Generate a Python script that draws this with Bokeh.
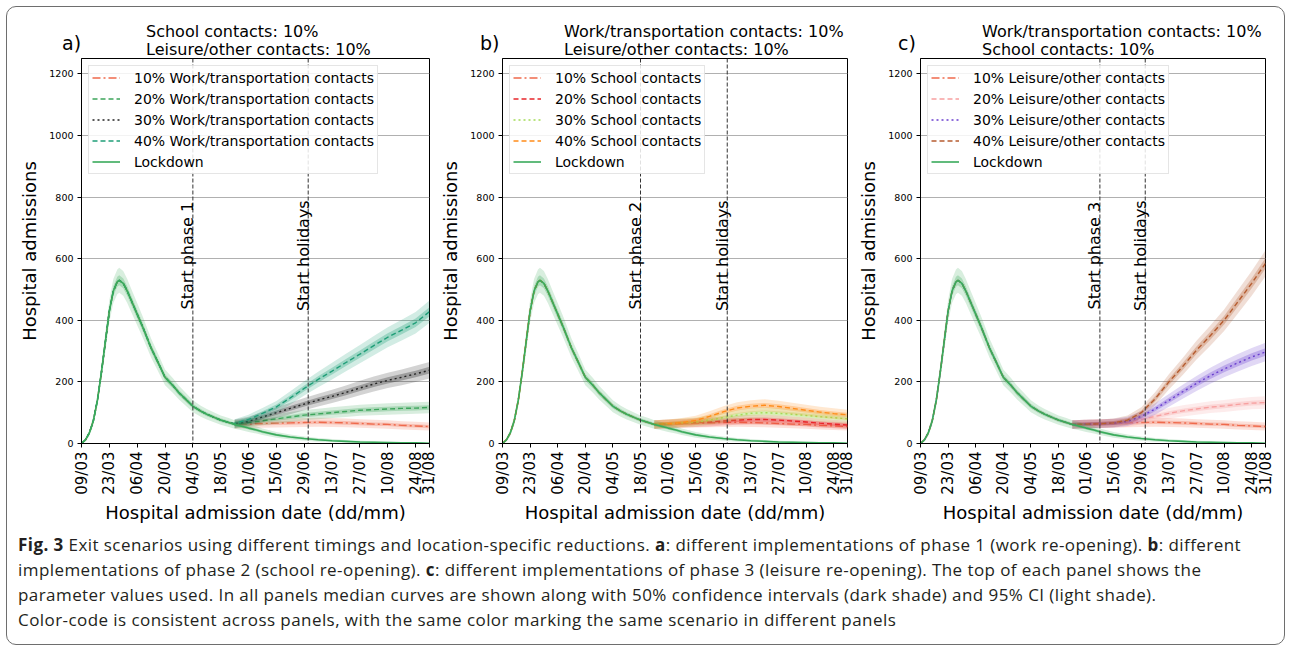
import numpy as np
import pandas as pd
from math import pi
from bokeh.plotting import figure
from bokeh.models import Range1d, FixedTicker, DatetimeTickFormatter, Span, Label, Legend, LegendItem, Div
from bokeh.layouts import row, column
from bokeh.embed import file_html
from bokeh.resources import INLINE

# ---------------- data ----------------
lockdown_dates = ["2020-03-09", "2020-03-11", "2020-03-13", "2020-03-15", "2020-03-17", "2020-03-19",
                  "2020-03-21", "2020-03-23", "2020-03-25", "2020-03-27", "2020-03-28", "2020-03-30",
                  "2020-04-01", "2020-04-03", "2020-04-06", "2020-04-09", "2020-04-13", "2020-04-16",
                  "2020-04-20", "2020-04-24", "2020-04-27", "2020-05-01", "2020-05-04", "2020-05-08",
                  "2020-05-11", "2020-05-15", "2020-05-18", "2020-05-22", "2020-05-25", "2020-05-28",
                  "2020-06-01", "2020-06-05", "2020-06-08", "2020-06-15", "2020-06-22", "2020-06-29",
                  "2020-07-06", "2020-07-13", "2020-07-20", "2020-07-27", "2020-08-03", "2020-08-10",
                  "2020-08-17", "2020-08-24", "2020-08-31"]
lockdown_vals = [0, 12, 35, 75, 140, 230,
                 330, 430, 495, 525, 530, 520,
                 495, 465, 420, 375, 310, 270,
                 215, 188, 165, 140, 121, 105,
                 95, 84, 76, 68, 62, 57,
                 50, 44, 38, 28, 21, 16,
                 12, 9, 7, 5, 4, 3,
                 2, 2, 1]

tail_dates = ["2020-05-25", "2020-06-01", "2020-06-08", "2020-06-15", "2020-06-22", "2020-06-29",
              "2020-07-06", "2020-07-13", "2020-07-20", "2020-07-27", "2020-08-03", "2020-08-10",
              "2020-08-17", "2020-08-24", "2020-08-31"]
base10 = [62, 63, 65, 66, 67, 68, 69, 68, 67, 65, 63, 62, 59, 57, 55]
work20 = [63, 68, 74, 80, 86, 92, 96, 100, 104, 108, 110, 112, 114, 115, 117]
work30 = [64, 72, 86, 100, 114, 128, 141, 153, 166, 180, 193, 205, 215, 226, 238]
work40 = [65, 78, 98, 119, 148, 179, 208, 235, 263, 290, 318, 345, 368, 392, 428]
school20 = [62, 64, 66, 68, 70, 73, 76, 78, 78, 76, 73, 70, 66, 63, 60]
school30 = [62, 64, 67, 70, 76, 84, 92, 98, 100, 98, 95, 91, 87, 84, 80]
school40 = [62, 64, 68, 75, 88, 103, 115, 121, 124, 120, 114, 108, 102, 97, 93]
leisure20 = [62, 63, 64, 65, 68, 78, 88, 98, 106, 112, 118, 122, 127, 131, 133]
leisure30 = [62, 63, 64, 66, 72, 88, 112, 140, 168, 195, 220, 242, 262, 281, 297]
leisure40 = [62, 63, 64, 67, 76, 100, 145, 200, 250, 303, 350, 400, 460, 520, 585]

ci95_k = 1.75   # 95% CI half-width ~ k*sqrt(median)
ci50_k = 0.7    # 50% CI half-width ~ k*sqrt(median)

x_tick_labels = ["09/03", "23/03", "06/04", "20/04", "04/05", "18/05", "01/06", "15/06",
                 "29/06", "13/07", "27/07", "10/08", "24/08", "31/08"]
y_ticks = [0, 200, 400, 600, 800, 1000, 1200]

holidays_date = "2020-07-01"

panels = [
    dict(tag="a)", title=["School contacts: 10%", "Leisure/other contacts: 10%"],
         phase_label="Start phase 1", phase_date="2020-05-04",
         series=[("10% Work/transportation contacts", base10, "#ef6a4c", "8 3 2 3"),
                 ("20% Work/transportation contacts", work20, "#3da55b", "5 3"),
                 ("30% Work/transportation contacts", work30, "#222222", "2 3"),
                 ("40% Work/transportation contacts", work40, "#1f9e78", "5 3")]),
    dict(tag="b)", title=["Work/transportation contacts: 10%", "Leisure/other contacts: 10%"],
         phase_label="Start phase 2", phase_date="2020-05-18",
         series=[("10% School contacts", base10, "#ef6a4c", "8 3 2 3"),
                 ("20% School contacts", school20, "#e8262a", "5 3"),
                 ("30% School contacts", school30, "#a3db55", "2 3"),
                 ("40% School contacts", school40, "#ff8c1a", "5 3")]),
    dict(tag="c)", title=["Work/transportation contacts: 10%", "School contacts: 10%"],
         phase_label="Start phase 3", phase_date="2020-06-08",
         series=[("10% Leisure/other contacts", base10, "#ef6a4c", "8 3 2 3"),
                 ("20% Leisure/other contacts", leisure20, "#f7a0a0", "5 3"),
                 ("30% Leisure/other contacts", leisure30, "#6a3ecf", "2 3"),
                 ("40% Leisure/other contacts", leisure40, "#b65c30", "5 3")]),
]

LOCK_COLOR = "#3aab5c"
FONT = "DejaVu Sans"

ld_x = pd.to_datetime(lockdown_dates).values
ld_y = np.array(lockdown_vals, dtype=float)
tl_x = pd.to_datetime(tail_dates).values
cut = ld_x < tl_x[0]


def ms(s):
    return pd.Timestamp(s).value // 10**6


x_ticks_ms = [ms(f"2020-{t[3:5]}-{t[0:2]}") for t in x_tick_labels]

# layout geometry: (width, min_border_left, min_border_right, tag_left, title_left)
geom = [(430, 74, 8, 55, 139), (418, 61, 8, 43, 127), (429, 62, 19, 43, 127)]
HEAD = 50
H = 473
TOP, BOTTOM = 1, 87


def draw_band(p, x, y, color):
    y = np.asarray(y, dtype=float)
    s = np.sqrt(np.maximum(y, 0))
    p.varea(x=x, y1=np.maximum(y - ci95_k * s, 0), y2=y + ci95_k * s, fill_color=color, fill_alpha=0.2)
    p.varea(x=x, y1=np.maximum(y - ci50_k * s, 0), y2=y + ci50_k * s, fill_color=color, fill_alpha=0.3)


figs = []
heads = []
for i, pan in enumerate(panels):
    W, bl, br, tag_left, title_left = geom[i]
    head_html = (
        f'<div style="position:relative; width:{W}px; height:{HEAD}px; overflow:visible; '
        f'font-family:\'DejaVu Sans\'; color:black;">'
        f'<span style="position:absolute; left:{tag_left}px; top:25px; font-size:19px; line-height:22px;">{pan["tag"]}</span>'
        f'<span style="position:absolute; left:{title_left}px; top:16px; font-size:16px; line-height:18px; white-space:nowrap;">'
        f'{pan["title"][0]}<br>{pan["title"][1]}</span></div>'
    )
    heads.append(Div(text=head_html, width=W, height=HEAD, margin=0, styles={"overflow": "visible"}))

    p = figure(width=W, height=H, x_axis_type="datetime",
               x_range=Range1d(x_ticks_ms[0], x_ticks_ms[-1]), y_range=Range1d(0, 1250),
               output_backend="svg", toolbar_location=None,
               min_border_left=bl, min_border_right=br, min_border_top=TOP, min_border_bottom=BOTTOM)
    p.background_fill_color = "white"
    p.border_fill_color = "white"
    p.outline_line_color = "black"
    p.outline_line_width = 1
    p.xgrid.grid_line_color = None
    p.ygrid.grid_line_color = "#b0b0b0"
    p.ygrid.grid_line_width = 1

    p.xaxis.ticker = FixedTicker(ticks=x_ticks_ms)
    fmt = "%d/%m"
    p.xaxis.formatter = DatetimeTickFormatter(milliseconds=fmt, seconds=fmt, minsec=fmt, minutes=fmt,
                                              hourmin=fmt, hours=fmt, days=fmt, months=fmt, years=fmt)
    p.xaxis.major_label_orientation = pi / 2
    p.yaxis.ticker = FixedTicker(ticks=y_ticks)
    for ax in (p.xaxis, p.yaxis):
        ax.axis_line_color = "black"
        ax.major_tick_line_color = "black"
        ax.major_tick_out = 4
        ax.major_tick_in = 0
        ax.minor_tick_line_color = None
        ax.major_label_text_font = FONT
        ax.major_label_text_color = "black"
        ax.axis_label_text_font = FONT
        ax.axis_label_text_font_size = "18px"
        ax.axis_label_text_font_style = "normal"
        ax.axis_label_text_color = "black"
    p.xaxis.major_label_text_font_size = "15px"
    p.yaxis.major_label_text_font_size = "9.5px"
    p.xaxis.major_label_standoff = 4
    p.yaxis.major_label_standoff = 4
    p.xaxis.axis_label_standoff = 4
    p.yaxis.axis_label_standoff = 6
    p.xaxis.axis_label = "Hospital admission date (dd/mm)"
    p.yaxis.axis_label = "Hospital admissions"

    items = []
    for (lab, vals, col, dash) in pan["series"]:
        x = np.concatenate([ld_x[cut], tl_x])
        y = np.concatenate([ld_y[cut], np.array(vals, dtype=float)])
        draw_band(p, tl_x, vals, col)
        r = p.line(x, y, line_color=col, line_width=1.4, line_dash=dash)
        items.append(LegendItem(label=lab, renderers=[r]))
    draw_band(p, ld_x, ld_y, LOCK_COLOR)
    r = p.line(ld_x, ld_y, line_color=LOCK_COLOR, line_width=1.6)
    items.append(LegendItem(label="Lockdown", renderers=[r]))

    leg = Legend(items=items, location="top_left")
    leg.margin = 7
    leg.padding = 3
    leg.spacing = 4
    leg.glyph_width = 28
    leg.glyph_height = 17
    leg.label_height = 17
    leg.label_standoff = 14
    leg.label_text_font = FONT
    leg.label_text_font_size = "14px"
    leg.label_text_color = "black"
    leg.background_fill_color = "white"
    leg.background_fill_alpha = 0.85
    leg.border_line_color = "#cccccc"
    leg.border_line_width = 1
    p.add_layout(leg)

    for d in (pan["phase_date"], holidays_date):
        p.add_layout(Span(location=ms(d), dimension="height", line_color="#333333",
                          line_width=1, line_dash="4 2"))
    p.add_layout(Label(x=ms(pan["phase_date"]), y=435, text=pan["phase_label"], angle=pi / 2,
                       x_offset=-5, text_font=FONT, text_font_size="16px", text_color="black",
                       text_baseline="alphabetic", text_align="left"))
    p.add_layout(Label(x=ms(holidays_date), y=430, text="Start holidays", angle=pi / 2,
                       x_offset=-5, text_font=FONT, text_font_size="16px", text_color="black",
                       text_baseline="alphabetic", text_align="left"))
    figs.append(p)

caption_html = (
    '<div style="font-family: \'Open Sans\', sans-serif; font-size: 17px; letter-spacing: 0.43px; '
    'line-height: 25px; color: #231f20; padding-left: 11px; padding-top: 2px; white-space: nowrap;">'
    '<b>Fig. 3</b> Exit scenarios using different timings and location-specific reductions. '
    '<b>a</b>: different implementations of phase 1 (work re-opening). <b>b</b>: different<br>'
    'implementations of phase 2 (school re-opening). <b>c</b>: different implementations of phase 3 '
    '(leisure re-opening). The top of each panel shows the<br>'
    'parameter values used. In all panels median curves are shown along with 50% confidence intervals '
    '(dark shade) and 95% CI (light shade).<br>'
    'Color-code is consistent across panels, with the same color marking the same scenario in different panels'
    '</div>'
)
cap = Div(text=caption_html, width=1277, height=114, margin=0)

layout = column(row(*heads), row(*figs), cap, margin=(6, 0, 0, 6),
                styles={"border": "1.5px solid #6e6e6e", "border-radius": "10px", "background": "white"})

open("out.html", "w").write(file_html(layout, INLINE))
